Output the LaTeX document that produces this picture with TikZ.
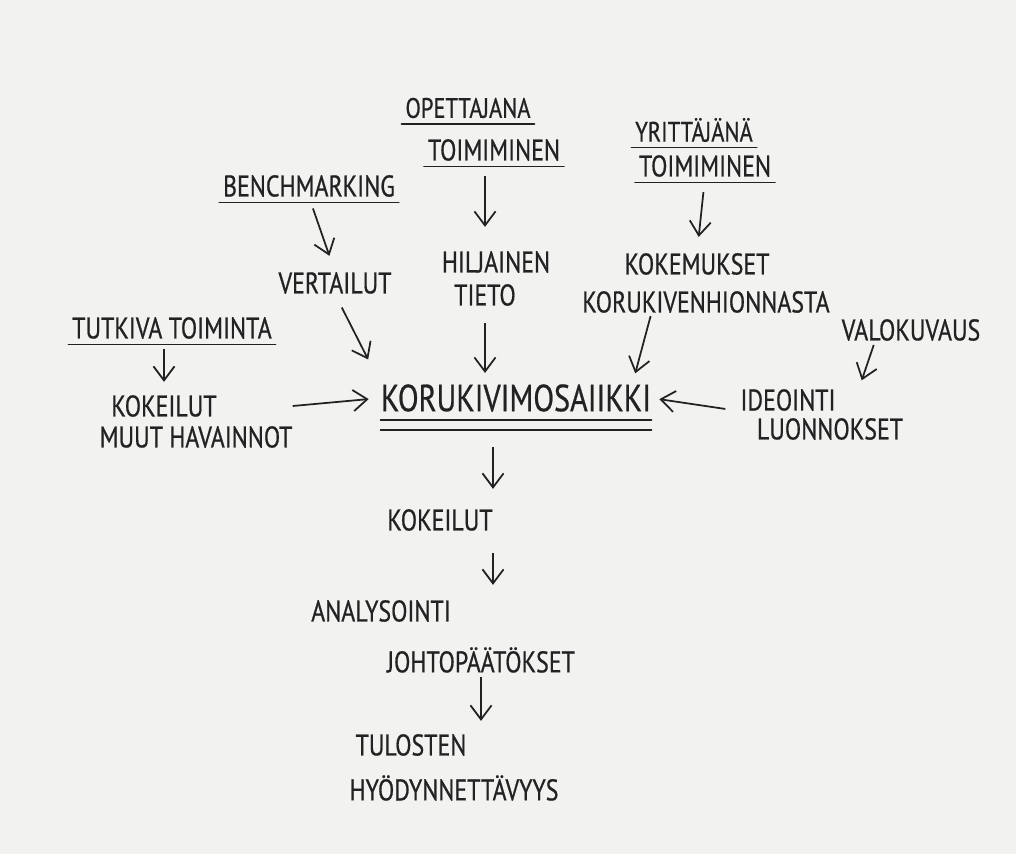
\documentclass[tikz,border=0pt]{standalone}
\usepackage{fontspec}
\setmainfont{PT Sans}[FakeStretch=0.8, FakeBold=0.6]
\usetikzlibrary{positioning, arrows.meta, calc}
\usepackage{xcolor}
\definecolor{ink}{RGB}{34,34,34}
\definecolor{paper}{RGB}{242,242,241}
\tikzset{
  hand/.style    = {inner sep=0pt, text=ink, font=\fontsize{17}{19}\selectfont},
  handsm/.style  = {hand, font=\fontsize{16}{18}\selectfont},
  handbig/.style = {hand, font=\fontsize{21.5}{24}\selectfont},
  flow/.style    = {-{Straight Barb[length=8pt,width=12pt]}, ink, line width=1pt,
                    shorten <=0.2cm, shorten >=0.25cm},
  uline/.style   = {ink, line width=1pt, line cap=round},
}
\begin{document}
\begin{tikzpicture}[x=0.02cm, y=-0.02cm]
  \fill[paper] (0,0) rectangle (1016,854);
  \useasboundingbox (0,0) rectangle (1016,854);

  % sources on top
  \node[handsm] (opetA) at (468,108) {OPETTAJANA};
  \node[hand]   (opetB) at (494,150) {TOIMIMINEN};
  \node[handsm] (yritA) at (694,130) {YRITTÄJÄNÄ};
  \node[hand]   (yritB) at (705,166) {TOIMIMINEN};
  \node[hand]   (bench) at (309,186) {BENCHMARKING};
  \node[hand]   (tutk)  at (172,328) {TUTKIVA TOIMINTA};
  \node[hand]   (valo)  at (911,330) {VALOKUVAUS};

  % middle row
  \node[hand]   (vert)   at (335,283) {VERTAILUT};
  \node[hand]   (hiljA)  at (496,262) {HILJAINEN};
  \node[hand]   (tieto)  at (485,295) {TIETO};
  \node[hand]   (kokemA) at (697,264) {KOKEMUKSET};
  \node[hand]   (kokemB) at (706,302) {KORUKIVENHIONNASTA};
  \node[hand]   (kokA)   at (164,406) {KOKEILUT};
  \node[hand]   (kokB)   at (196,437) {MUUT HAVAINNOT};
  \node[handbig] (koru)  at (516,398) {KORUKIVIMOSAIIKKI};
  \node[hand]   (ideoA)  at (788,400) {IDEOINTI};
  \node[hand]   (ideoB)  at (830,429) {LUONNOKSET};

  % chain below
  \node[hand]   (koke2)  at (440,520) {KOKEILUT};
  \node[hand]   (analyA) at (381,611) {ANALYSOINTI};
  \node[hand]   (analyB) at (481,660) {JOHTOPÄÄTÖKSET};
  \node[hand]   (tulosA) at (411,745) {TULOSTEN};
  \node[hand]   (tulosB) at (454,788) {HYÖDYNNETTÄVYYS};

  % underlines
  \foreach \n in {opetA, opetB, yritA, yritB, bench, tutk}
    \draw[uline] ([xshift=-2pt, yshift=-3pt]\n.south west) -- ([xshift=2pt, yshift=-3pt]\n.south east);
  \draw[uline] ([yshift=-0.16cm]koru.south west) -- ([yshift=-0.16cm]koru.south east);
  \draw[uline] ([yshift=-0.36cm]koru.south west) -- ([yshift=-0.36cm]koru.south east);

  % arrows
  \draw[flow, shorten <=0.24cm, shorten >=0.34cm] (bench.south) -- (vert.north);
  \draw[flow, shorten <=0.3cm, shorten >=0.48cm] (opetB.south -| tieto.north) -- (tieto.north |- hiljA.north);
  \draw[flow, shorten <=0.3cm, shorten >=0.32cm] (yritB.south) -- (kokemA.north);
  \draw[flow, shorten <=0.3cm, shorten >=0.55cm] (vert.south) -- (koru.north west);
  \draw[flow, shorten <=0.34cm, shorten >=0.22cm] (tieto.south) -- (tieto.south |- koru.north);
  \draw[flow, shorten <=0.06cm, shorten >=0.22cm] (kokemB.south -| koru.north east) -- ([xshift=-0.38cm]koru.north east);
  \draw[flow, shorten <=0.2cm, shorten >=0.26cm] (tutk.south -| kokA.north) -- (kokA.north);
  \draw[flow, shorten <=0cm, shorten >=0.24cm] (kokB.east |- kokA.east) -- (koru.west);
  \draw[flow, shorten <=0.08cm, shorten >=0.18cm] ([xshift=-0.72cm]valo.south) -- ([xshift=0.46cm]ideoA.north east);
  \draw[flow, shorten <=0.3cm, shorten >=0.16cm] (ideoA.south west) -- (koru.east);
  \draw[flow, shorten <=0.7cm, shorten >=0.4cm] (koke2.north east |- koru.south) -- (koke2.north east);
  \draw[flow, shorten <=0.44cm, shorten >=0.3cm] (koke2.south east) -- (koke2.south east |- analyA.north);
  \draw[flow, shorten <=0.08cm, shorten >=0.26cm] (analyB.south) -- (analyB.south |- tulosA.north);
\end{tikzpicture}
\end{document}
